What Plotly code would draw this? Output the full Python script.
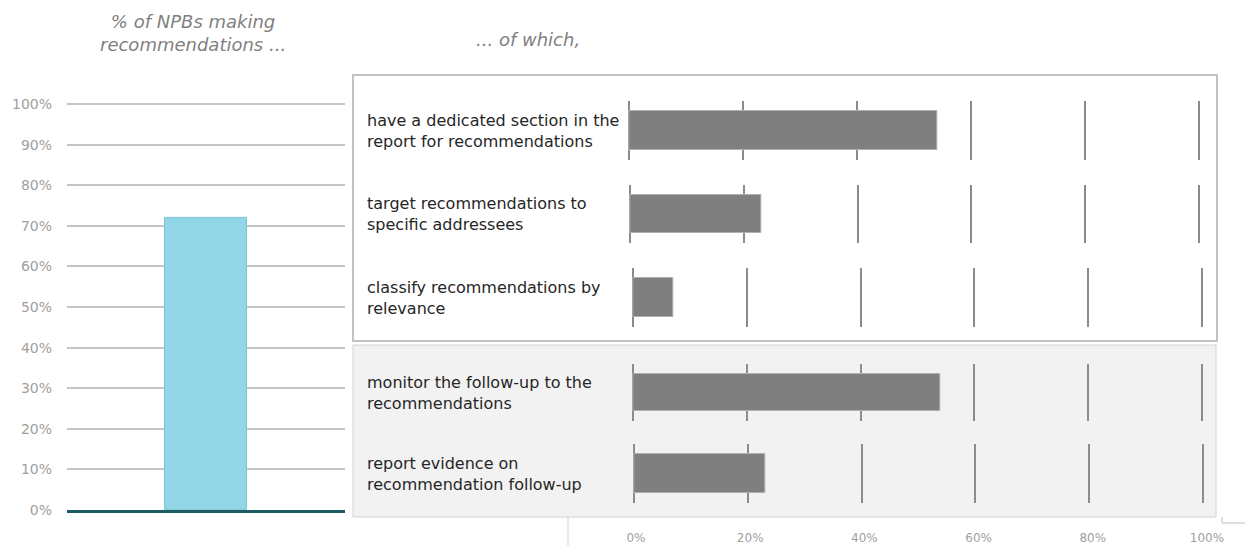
import plotly.graph_objects as go

W, H = 1245, 546

# ---- data ----
share_making = [0.72]
share_cats = ["NPBs"]
left_tick_vals = [i / 10 for i in range(11)]
left_tick_text = ["0%", "10%", "20%", "30%", "40%", "50%", "60%", "70%", "80%", "90%", "100%"]

row_labels = [
    "have a dedicated section in the<br>report for recommendations",
    "target recommendations to<br>specific addressees",
    "classify recommendations by<br>relevance",
    "monitor the follow-up to the<br>recommendations",
    "report evidence on<br>recommendation follow-up",
]
row_values = [0.54, 0.23, 0.07, 0.54, 0.23]
right_tick_vals = [0, 0.2, 0.4, 0.6, 0.8, 1.0]
right_tick_text = ["0%", "20%", "40%", "60%", "80%", "100%"]

# ---- layout helpers (pixel -> paper) ----
def px(x):
    return x / W

def py(y):
    return 1 - y / H

FONT = "DejaVu Sans"
GRAY_TXT = "#a0a0a0"

fig = go.Figure()

# left column chart
fig.add_trace(go.Bar(
    x=share_cats, y=share_making, width=0.295,
    marker=dict(color="#92d5e6", line=dict(color="#7fc3d5", width=1)),
    xaxis="x", yaxis="y", showlegend=False, hoverinfo="skip",
))

# 0% at y=510px, 100% at y=104px; a little headroom keeps the 100% gridline drawn
y0_px, y100_px, top = 510, 104, 1.02
ytop_px = y0_px - (y0_px - y100_px) * top

layout = dict(
    width=W, height=H,
    margin=dict(l=0, r=0, t=0, b=0, autoexpand=False),
    paper_bgcolor="white",
    plot_bgcolor="rgba(0,0,0,0)",
    font=dict(family=FONT),
    bargap=0,
    xaxis=dict(domain=[px(67), px(345)], range=[-0.5, 0.5], showticklabels=False,
               showgrid=False, zeroline=False, showline=True, linecolor="#1d5a63",
               linewidth=3, anchor="y", fixedrange=True, automargin=False),
    yaxis=dict(domain=[py(y0_px), py(ytop_px)], range=[0, top], tickvals=left_tick_vals,
               ticktext=left_tick_text, showgrid=True, gridcolor="#c4c4c4", gridwidth=2,
               zeroline=False, showline=False, ticks="", ticklabelstandoff=14,
               tickfont=dict(size=14, color=GRAY_TXT, family=FONT), anchor="x",
               fixedrange=True, automargin=False),
)

# right-hand rows: (x0, x1, y_top, y_bottom) in px for the 0%..100% span
row_frames = [
    (629, 1199, 101, 160),
    (630, 1199, 185, 243),
    (633, 1202, 268, 327),
    (633, 1202, 364, 421),
    (634, 1203, 444, 503),
]
pad = 0.01
for i, (lab, val, (x0, x1, yt, yb)) in enumerate(zip(row_labels, row_values, row_frames)):
    k = i + 2
    span = x1 - x0
    fig.add_trace(go.Bar(
        x=[val], y=[""], orientation="h", width=0.66,
        marker=dict(color="#7f7f7f", line=dict(color="#b0b0b0", width=1)),
        xaxis=f"x{k}", yaxis=f"y{k}", showlegend=False, hoverinfo="skip",
    ))
    layout[f"xaxis{k}"] = dict(
        domain=[px(x0 - span * pad), px(x1 + span * pad)], range=[-pad, 1 + pad],
        tickvals=right_tick_vals, showticklabels=False, showgrid=True,
        gridcolor="#8c8c8c", gridwidth=2, zeroline=True, zerolinecolor="#8c8c8c",
        zerolinewidth=2, showline=False, anchor=f"y{k}", fixedrange=True,
        automargin=False,
    )
    layout[f"yaxis{k}"] = dict(
        domain=[py(yb), py(yt)], range=[-0.5, 0.5], showticklabels=False,
        showgrid=False, zeroline=False, anchor=f"x{k}", fixedrange=True,
        automargin=False,
    )
    fig.add_annotation(
        x=px(365), y=py((yt + yb) / 2), xref="paper", yref="paper",
        text=lab, showarrow=False, xanchor="left", yanchor="middle", align="left",
        font=dict(size=16, color="#262626", family=FONT),
    )

# shared percentage scale under the rows
fig.add_trace(go.Scatter(x=[], y=[], xaxis="x7", yaxis="y7", showlegend=False))
layout["xaxis7"] = dict(
    domain=[px(636), px(1207)], range=[0, 1], tickvals=right_tick_vals,
    ticktext=right_tick_text, showgrid=False, zeroline=False, showline=False,
    ticks="", tickfont=dict(size=12, color=GRAY_TXT, family=FONT),
    anchor="y7", fixedrange=True, automargin=False,
)
layout["yaxis7"] = dict(
    domain=[py(529), py(520)], range=[0, 1], visible=False, anchor="x7",
    fixedrange=True, automargin=False,
)

fig.update_layout(**layout)

# panel frames
fig.add_shape(type="rect", xref="paper", yref="paper",
              x0=px(353), x1=px(1217), y0=py(341), y1=py(75),
              line=dict(color="#c2c2c2", width=2), fillcolor="white", layer="below")
fig.add_shape(type="rect", xref="paper", yref="paper",
              x0=px(353), x1=px(1216), y0=py(517), y1=py(345),
              line=dict(color="#d4d4d4", width=1), fillcolor="#f2f2f2", layer="below")
fig.add_shape(type="line", xref="paper", yref="paper",
              x0=px(568), x1=px(568), y0=py(546), y1=py(517),
              line=dict(color="#d4d4d4", width=1), layer="below")
fig.add_shape(type="path", xref="paper", yref="paper",
              path=f"M {px(1222)} {py(517)} L {px(1222)} {py(523)} L {px(1245)} {py(523)}",
              line=dict(color="#bfbfbf", width=1), layer="below")

# headings
fig.add_annotation(x=px(193), y=py(33), xref="paper", yref="paper",
                   text="<i>% of NPBs making<br>recommendations ...</i>", showarrow=False,
                   xanchor="center", yanchor="middle",
                   font=dict(size=18, color="#7f7f7f", family=FONT))
fig.add_annotation(x=px(528), y=py(40), xref="paper", yref="paper",
                   text="<i>... of which,</i>", showarrow=False,
                   xanchor="center", yanchor="middle",
                   font=dict(size=18, color="#7f7f7f", family=FONT))

fig.write_html(
    "out.html",
    post_script="document.body.style.margin='0';document.body.style.overflow='hidden';",
)
